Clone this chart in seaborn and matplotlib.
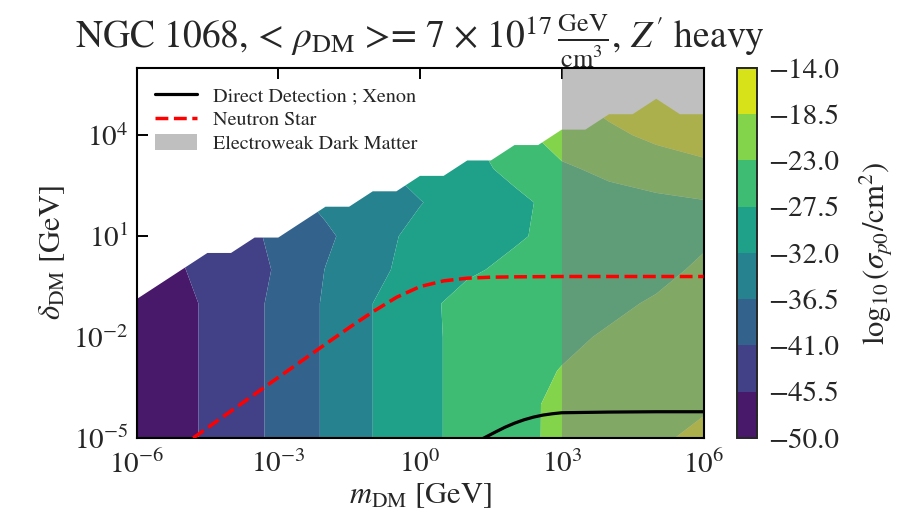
import numpy as np
import matplotlib
matplotlib.use("Agg")
import matplotlib.pyplot as plt
from matplotlib.patches import Polygon
from matplotlib.ticker import FixedLocator, FuncFormatter
import seaborn as sns

# ---- data (all positions are log10 exponents) ----
# node grid: log10(m_DM/GeV) across, log10(delta_DM/GeV) up
log_mass_nodes = [-6, -5, -4, -3, -2, -1, 0, 1, 2, 3, 4, 5, 6]
log_delta_nodes = [-5, -4, -3, -2, -1, 0, 1, 2, 3, 4, 5, 6]

# log10(sigma_p0 / cm^2), one row per delta node (bottom to top)
sigma_rows = [
    [-49.56, -46.46, -43.36, -40.04, -36.02, -32.00, -28.74, -26.17, -24.02, -22.18, -20.64, -19.10, -17.58],
    [-49.56, -46.46, -43.36, -40.04, -36.02, -32.00, -28.74, -26.17, -24.02, -22.20, -21.00, -19.80, -19.00],
    [-49.56, -46.46, -43.36, -40.04, -36.02, -32.00, -28.74, -26.17, -24.02, -22.89, -21.50, -20.50, -19.80],
    [-49.56, -46.46, -43.36, -40.04, -36.02, -32.00, -28.74, -26.17, -24.30, -23.60, -22.68, -21.80, -21.00],
    [-49.56, -46.46, -43.36, -40.04, -36.02, -32.00, -28.74, -25.98, -24.60, -23.90, -23.60, -22.68, -22.00],
    [-48.50, -45.60, -43.40, -40.58, -36.40, -32.99, -30.40, -28.13, -26.50, -25.50, -24.60, -23.80, -22.50],
    [-47.00, -45.00, -43.00, -40.00, -37.30, -33.80, -30.53, -29.00, -28.00, -26.30, -25.50, -24.50, -23.50],
    [-45.00, -43.50, -41.50, -38.50, -35.50, -34.50, -32.20, -29.50, -28.20, -26.50, -24.50, -23.80, -23.30],
    [-42.00, -40.00, -38.00, -35.50, -34.00, -33.00, -30.00, -28.50, -26.70, -23.60, -22.10, -21.00, -19.50],
    [-40.00, -38.00, -36.00, -34.00, -32.50, -31.50, -30.50, -28.00, -24.50, -21.00, -19.50, -17.50, -16.50],
    [-38.00, -36.00, -34.00, -32.00, -30.50, -29.50, -28.50, -26.00, -23.00, -19.50, -17.00, -15.50, -15.00],
    [-36.00, -34.00, -32.00, -30.00, -28.50, -27.50, -26.50, -24.00, -21.00, -18.00, -15.50, -14.50, -14.20],
]

# upper edge of the region where the bound exists
edge_log_mass = [-6.0, -5.5, -5.0, -4.5, -4.0, -3.5, -3.0, -2.5, -2.0, -1.5, -1.0, -0.5,
                 0.0, 0.5, 1.0, 1.5, 2.0, 2.5, 3.0, 3.5, 4.0, 4.5, 5.0, 5.5, 6.0]
edge_log_delta = [-0.875, -0.417, 0.042, 0.500, 0.500, 0.958, 0.958, 1.417, 1.875, 1.875,
                  2.333, 2.333, 2.792, 2.792, 3.250, 3.250, 3.708, 3.708, 4.167, 4.167,
                  4.625, 4.625, 5.083, 4.625, 4.625]

levels = [-50.0, -45.5, -41.0, -36.5, -32.0, -27.5, -23.0, -18.5, -14.0]

# neutron star reach
ns_log_mass = [-4.8, -4.0, -3.0, -2.0, -1.5, -1.0, -0.5, 0.0, 0.5, 1.0, 1.5, 2.0, 3.0, 4.0, 5.0, 6.0]
ns_log_delta = [-5.0, -4.2, -3.2, -2.21, -1.72, -1.25, -0.82, -0.5, -0.33, -0.25, -0.22, -0.21,
                -0.2, -0.2, -0.2, -0.2]

# xenon direct detection reach
xe_log_mass = [1.3, 1.6, 1.8, 2.0, 2.2, 2.4, 2.6, 2.8, 3.0, 4.0, 5.0, 6.0]
xe_log_delta = [-5.04, -4.82, -4.68, -4.56, -4.46, -4.38, -4.32, -4.28, -4.25, -4.23, -4.22, -4.22]

# electroweak dark matter mass window
ew_log_mass = [3.0, 6.0]

x_tick_exp = [-6, -3, 0, 3, 6]
y_tick_exp = [-5, -2, 1, 4]

# ---- style ----
sns.set_style("ticks")
plt.rcParams["font.family"] = ["STIXGeneral", "DejaVu Serif"]
plt.rcParams["mathtext.fontset"] = "stix"
plt.rcParams["axes.unicode_minus"] = True

fig = plt.figure(figsize=(9.23, 5.28), dpi=100)
ax = fig.add_axes([0.1479, 0.1705, 0.6143, 0.7008])
cax = fig.add_axes([0.7988, 0.1705, 0.0210, 0.7008])

Z = np.array(sigma_rows)
cs = ax.contourf(log_mass_nodes, log_delta_nodes, Z, levels=levels,
                 cmap="viridis", antialiased=True, zorder=1)

edge = np.column_stack([edge_log_mass + [6.0, -6.0], edge_log_delta + [-5.0, -5.0]])
clip = Polygon(edge, closed=True, transform=ax.transData, facecolor="none", edgecolor="none")
cs.set_clip_path(clip)

sns.lineplot(x=xe_log_mass, y=xe_log_delta, ax=ax, color="black", linewidth=2.3,
             sort=False, estimator=None, label="Direct Detection ; Xenon", zorder=4)
sns.lineplot(x=ns_log_mass, y=ns_log_delta, ax=ax, color="red", linewidth=2.5,
             linestyle="--", sort=False, estimator=None, label="Neutron Star", zorder=4)
ax.axvspan(ew_log_mass[0], ew_log_mass[1], color="gray", alpha=0.5, linewidth=0,
           label="Electroweak Dark Matter", zorder=2)

ax.set_xlim(-6, 6)
ax.set_ylim(-5, 6)
ax.xaxis.set_major_locator(FixedLocator(x_tick_exp))
ax.yaxis.set_major_locator(FixedLocator(y_tick_exp))
pow10 = FuncFormatter(lambda v, p: r"$10^{%d}$" % int(round(v)))
ax.xaxis.set_major_formatter(pow10)
ax.yaxis.set_major_formatter(pow10)
ax.tick_params(which="major", direction="in", top=True, right=True,
               length=8, width=1.4, labelsize=21, color="black")
ax.tick_params(axis="x", pad=9)
ax.tick_params(axis="y", pad=6)
for s in ax.spines.values():
    s.set_linewidth(1.5)
    s.set_color("black")

ax.set_xlabel(r"$m_{\rm DM}$ [GeV]", fontsize=22, labelpad=2)
ax.set_ylabel(r"$\delta_{\rm DM}$ [GeV]", fontsize=22, labelpad=4)
ax.set_title(r"NGC 1068, < $\rho_{\rm DM}$ >= 7 $\times$ 10$^{17}\,\frac{\rm GeV}{\rm cm^3}$, $Z'$ heavy",
             fontsize=27, pad=14)

ax.legend(loc="upper left", frameon=False, fontsize=14.5, handlelength=2.1,
          handleheight=0.85, labelspacing=0.25, handletextpad=0.8)

cbar = fig.colorbar(cs, cax=cax, ticks=levels)
cbar.ax.yaxis.set_major_formatter(FuncFormatter(lambda v, p: "\u2212%.1f" % abs(v)))
cbar.ax.minorticks_on()
cbar.ax.tick_params(which="major", direction="in", length=5, width=1.2, labelsize=21, pad=8)
cbar.ax.tick_params(which="minor", direction="in", length=3, width=1.0)
cbar.outline.set_linewidth(1.4)
cbar.set_label(r"$\log_{10}(\sigma_{p0}/{\rm cm}^2)$", fontsize=22, labelpad=14)

fig.savefig("out.png", dpi=100)
